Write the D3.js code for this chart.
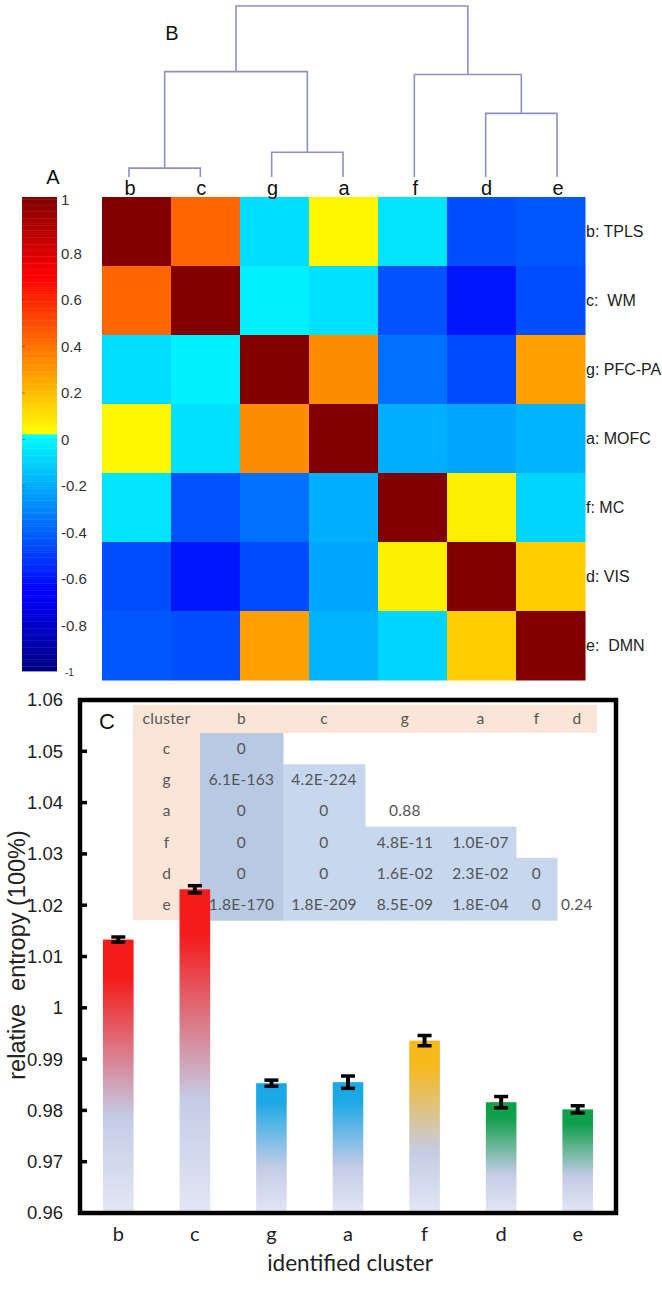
<!DOCTYPE html>
<html>
<head>
<meta charset="utf-8">
<script src="https://cdn.jsdelivr.net/npm/d3@7"></script>
<style>
  body { margin: 0; background: #fff; }
  svg { display: block; }
</style>
</head>
<body>
<svg id="chart" width="662" height="1292"></svg>
<script>
// ---- data ----
const clusters = ['b', 'c', 'g', 'a', 'f', 'd', 'e']
const networkLabels = ['b: TPLS', 'c:  WM', 'g: PFC-PA', 'a: MOFC', 'f: MC', 'd: VIS', 'e:  DMN']

// correlation matrix, rows/cols in cluster order
const corr = [
  [1.00, 0.40, -0.09, 0.02, -0.07, -0.46, -0.44],
  [0.40, 1.00, -0.04, -0.08, -0.45, -0.61, -0.46],
  [-0.09, -0.04, 1.00, 0.30, -0.37, -0.47, 0.25],
  [0.02, -0.08, 0.30, 1.00, -0.21, -0.23, -0.20],
  [-0.07, -0.45, -0.37, -0.21, 1.00, 0.04, -0.11],
  [-0.46, -0.61, -0.47, -0.23, 0.04, 1.00, 0.13],
  [-0.44, -0.46, 0.25, -0.20, -0.11, 0.13, 1.00]
]
const colorbarTicks = [1, 0.8, 0.6, 0.4, 0.2, 0, -0.2, -0.4, -0.6, -0.8, -1]

// dendrogram, h = linkage height (root = 1)
const dendroTree = {
  h: 1.0,
  children: [
    { h: 0.616, children: [
      { h: 0.052, children: [{ name: 'b' }, { name: 'c' }] },
      { h: 0.145, children: [{ name: 'g' }, { name: 'a' }] }
    ] },
    { h: 0.599, children: [
      { name: 'f' },
      { h: 0.372, children: [{ name: 'd' }, { name: 'e' }] }
    ] }
  ]
}

const entropy = [1.0133, 1.0231, 0.9853, 0.9855, 0.9936, 0.9816, 0.9802]
const entropyErr = [0.0005, 0.0007, 0.0006, 0.0012, 0.0010, 0.0011, 0.0007]
const yTicks = [0.96, 0.97, 0.98, 0.99, 1.00, 1.01, 1.02, 1.03, 1.04, 1.05, 1.06]

const tableHeader = ['cluster', 'b', 'c', 'g', 'a', 'f', 'd']
const tableRowLabels = ['c', 'g', 'a', 'f', 'd', 'e']
const pValues = [
  ['0'],
  ['6.1E-163', '4.2E-224'],
  ['0', '0', '0.88'],
  ['0', '0', '4.8E-11', '1.0E-07'],
  ['0', '0', '1.6E-02', '2.3E-02', '0'],
  ['1.8E-170', '1.8E-209', '8.5E-09', '1.8E-04', '0', '0.24']
]

// ---- layout ----
const tableColWidths = [67, 83, 82, 80, 71, 41, 40]
const svg = d3.select('#chart')
const defs = svg.append('defs')

function clamp01(v) {
  return Math.max(0, Math.min(1, v))
}

function jet(t) {
  const r = clamp01(1.5 - Math.abs(4 * t - 3))
  const g = clamp01(1.5 - Math.abs(4 * t - 2))
  const b = clamp01(1.5 - Math.abs(4 * t - 1))
  return d3.rgb(r * 255, g * 255, b * 255).formatHex()
}

function corrColor(v) {
  const t = v < 0 ? 0.375 * (v + 1) : 0.625 + 0.375 * v
  return jet(t)
}

// ---- heatmap ----
const hx = d3.scaleBand().domain(clusters).range([102, 585])
const hy = d3.scaleBand().domain(clusters).range([197, 680])

const cells = []
corr.forEach((row, i) => row.forEach((v, j) => cells.push({ row: clusters[i], col: clusters[j], v })))

svg.append('g')
  .selectAll('rect')
  .data(cells)
  .join('rect')
  .attr('x', d => hx(d.col))
  .attr('y', d => hy(d.row))
  .attr('width', hx.bandwidth() + 0.5)
  .attr('height', hy.bandwidth() + 0.5)
  .attr('fill', d => corrColor(d.v))

svg.append('g')
  .selectAll('text')
  .data(networkLabels)
  .join('text')
  .attr('x', 586)
  .attr('y', (d, i) => hy(clusters[i]) + hy.bandwidth() / 2)
  .attr('dy', '0.35em')
  .attr('font-family', 'Liberation Sans, Arial, sans-serif')
  .attr('font-size', 16)
  .attr('fill', '#222')
  .style('white-space', 'pre')
  .text(d => d)

// ---- dendrogram ----
const leafX = d3.scalePoint().domain(clusters).range([129, 557])
const linkY = d3.scaleLinear().domain([0, 1]).range([177, 6])

const root = d3.hierarchy(dendroTree)
root.eachAfter(n => {
  if (!n.children) {
    n.px = leafX(n.data.name)
    n.py = linkY(0)
  } else {
    n.px = d3.mean(n.children, c => c.px)
    n.py = linkY(n.data.h)
  }
})

svg.append('g')
  .selectAll('path')
  .data(root.descendants().filter(n => n.children))
  .join('path')
  .attr('d', n => {
    const [c1, c2] = n.children
    return `M${c1.px},${c1.py}V${n.py}H${c2.px}V${c2.py}`
  })
  .attr('fill', 'none')
  .attr('stroke', '#8f8fc6')
  .attr('stroke-width', 1.6)

svg.append('g')
  .selectAll('text')
  .data(clusters)
  .join('text')
  .attr('x', d => leafX(d) + 1)
  .attr('y', 195)
  .attr('text-anchor', 'middle')
  .attr('font-family', 'Liberation Sans, Arial, sans-serif')
  .attr('font-size', 20)
  .attr('fill', '#111')
  .text(d => d)

svg.append('text')
  .attr('x', 172).attr('y', 40)
  .attr('text-anchor', 'middle')
  .attr('font-family', 'Liberation Sans, Arial, sans-serif')
  .attr('font-size', 20)
  .attr('fill', '#111')
  .text('B')

svg.append('text')
  .attr('x', 53).attr('y', 184)
  .attr('text-anchor', 'middle')
  .attr('font-family', 'Liberation Sans, Arial, sans-serif')
  .attr('font-size', 20)
  .attr('fill', '#111')
  .text('A')

// ---- colorbar ----
const cbY = d3.scaleLinear().domain([-1, 1]).range([671, 197])
const cbLabelY = d3.scaleLinear().domain([-1, 1]).range([672, 207])
const cbStep = 0.01
const cbValues = d3.range(-1, 1, cbStep)

svg.append('g')
  .selectAll('rect')
  .data(cbValues)
  .join('rect')
  .attr('x', 22)
  .attr('y', d => cbY(d + cbStep))
  .attr('width', 35)
  .attr('height', d => cbY(d) - cbY(d + cbStep) + 0.4)
  .attr('fill', d => corrColor(d + cbStep / 2))

svg.append('g')
  .selectAll('line')
  .data(colorbarTicks.filter(d => Math.abs(d) < 1))
  .join('line')
  .attr('x1', 22).attr('x2', 25)
  .attr('y1', d => cbLabelY(d)).attr('y2', d => cbLabelY(d))
  .attr('stroke', '#333')
  .attr('stroke-opacity', 0.5)

svg.append('g')
  .selectAll('text')
  .data(colorbarTicks)
  .join('text')
  .attr('x', d => d === -1 ? 65 : 61)
  .attr('y', d => d === 1 ? 200 : cbLabelY(d))
  .attr('dy', '0.35em')
  .attr('font-family', 'Liberation Sans, Arial, sans-serif')
  .attr('font-size', d => d === -1 ? 10 : 15)
  .attr('fill', '#333')
  .text(d => d)

// ---- table of p-values (under the bars) ----
const colEdges = [133]
tableColWidths.forEach(w => colEdges.push(colEdges[colEdges.length - 1] + w))
const tableTop = 705
const headerH = 28
const rowH = 31.2
const tableBottom = tableTop + headerH + rowH * tableRowLabels.length

const tableG = svg.append('g')
tableG.append('rect')
  .attr('x', colEdges[0]).attr('y', tableTop)
  .attr('width', colEdges[colEdges.length - 1] - colEdges[0]).attr('height', headerH)
  .attr('fill', '#fbe5d6')
tableG.append('rect')
  .attr('x', colEdges[0]).attr('y', tableTop)
  .attr('width', tableColWidths[0]).attr('height', tableBottom - tableTop)
  .attr('fill', '#fbe5d6')

const tCells = []
pValues.forEach((row, i) => row.forEach((p, j) => tCells.push({ i, j: j + 1, p })))

tableG.selectAll('rect.cell')
  .data(tCells.filter(d => +d.p < 0.05))
  .join('rect')
  .attr('class', 'cell')
  .attr('x', d => colEdges[d.j])
  .attr('y', d => tableTop + headerH + d.i * rowH)
  .attr('width', d => tableColWidths[d.j] + 0.5)
  .attr('height', rowH + 0.5)
  .attr('fill', d => d.j === 1 ? '#b8cae3' : '#c6d7ee')

const tableFont = 'Lato, Open Sans, sans-serif'
const tableSize = 15.5
tableG.selectAll('text.head')
  .data(tableHeader)
  .join('text')
  .attr('class', 'head')
  .attr('x', (d, j) => colEdges[j] + tableColWidths[j] / 2)
  .attr('y', tableTop + headerH / 2)
  .attr('dy', '0.35em')
  .attr('text-anchor', 'middle')
  .attr('font-family', tableFont)
  .attr('font-size', tableSize)
  .attr('letter-spacing', 0.3)
  .attr('fill', '#555')
  .text(d => d)

tableG.selectAll('text.rowlab')
  .data(tableRowLabels)
  .join('text')
  .attr('class', 'rowlab')
  .attr('x', colEdges[0] + tableColWidths[0] / 2)
  .attr('y', (d, i) => tableTop + headerH + i * rowH + rowH / 2)
  .attr('dy', '0.35em')
  .attr('text-anchor', 'middle')
  .attr('font-family', tableFont)
  .attr('font-size', tableSize)
  .attr('fill', '#555')
  .text(d => d)

tableG.selectAll('text.val')
  .data(tCells)
  .join('text')
  .attr('class', 'val')
  .attr('x', d => colEdges[d.j] + tableColWidths[d.j] / 2)
  .attr('y', d => tableTop + headerH + d.i * rowH + rowH / 2)
  .attr('dy', '0.35em')
  .attr('text-anchor', 'middle')
  .attr('font-family', tableFont)
  .attr('font-size', tableSize)
  .attr('letter-spacing', 0.3)
  .attr('fill', '#555')
  .text(d => d.p)

svg.append('text')
  .attr('x', 107).attr('y', 721)
  .attr('dy', '0.35em')
  .attr('text-anchor', 'middle')
  .attr('font-family', 'Liberation Sans, Arial, sans-serif')
  .attr('font-size', 22)
  .attr('fill', '#111')
  .text('C')

// ---- bar chart ----
const bx = d3.scaleBand().domain(clusters).range([80, 616]).paddingInner(0.6).paddingOuter(0.3)
const by = d3.scaleLinear().domain([0.96, 1.06]).range([1213, 700])
const barColor = d3.scaleOrdinal()
  .domain(clusters)
  .range(['#f41b1b', '#f41b1b', '#1ba8e6', '#1ba8e6', '#f7b81b', '#10a04b', '#10a04b'])

clusters.forEach(c => {
  const grad = defs.append('linearGradient')
    .attr('id', 'grad-' + c)
    .attr('x1', 0).attr('y1', 0).attr('x2', 0).attr('y2', 1)
  grad.append('stop').attr('offset', '0%').attr('stop-color', barColor(c))
  grad.append('stop').attr('offset', '14%').attr('stop-color', barColor(c))
  grad.append('stop').attr('offset', '65%').attr('stop-color', '#c4cce6')
  grad.append('stop').attr('offset', '100%').attr('stop-color', '#e2e7f4')
})

const barData = clusters.map((c, i) => ({ c, v: entropy[i], e: entropyErr[i] }))

svg.append('g')
  .selectAll('rect')
  .data(barData)
  .join('rect')
  .attr('x', d => bx(d.c))
  .attr('y', d => by(d.v))
  .attr('width', bx.bandwidth())
  .attr('height', d => by(0.96) - by(d.v))
  .attr('fill', d => `url(#grad-${d.c})`)

const errG = svg.append('g').attr('stroke', '#000')
errG.selectAll('line.stem')
  .data(barData)
  .join('line')
  .attr('class', 'stem')
  .attr('x1', d => bx(d.c) + bx.bandwidth() / 2)
  .attr('x2', d => bx(d.c) + bx.bandwidth() / 2)
  .attr('y1', d => by(d.v - d.e))
  .attr('y2', d => by(d.v + d.e))
  .attr('stroke-width', 4)

errG.selectAll('line.cap')
  .data(barData.flatMap(d => [{ c: d.c, y: d.v - d.e }, { c: d.c, y: d.v + d.e }]))
  .join('line')
  .attr('class', 'cap')
  .attr('x1', d => bx(d.c) + bx.bandwidth() / 2 - 7)
  .attr('x2', d => bx(d.c) + bx.bandwidth() / 2 + 7)
  .attr('y1', d => by(d.y))
  .attr('y2', d => by(d.y))
  .attr('stroke-width', 3.5)

// frame + ticks
svg.append('rect')
  .attr('x', 80).attr('y', 700)
  .attr('width', 536).attr('height', 513)
  .attr('fill', 'none')
  .attr('stroke', '#000')
  .attr('stroke-width', 4.5)

svg.append('g')
  .selectAll('line')
  .data(yTicks)
  .join('line')
  .attr('x1', 80).attr('x2', 87)
  .attr('y1', d => by(d)).attr('y2', d => by(d))
  .attr('stroke', '#000')
  .attr('stroke-width', 3.5)

svg.append('g')
  .selectAll('text')
  .data(yTicks)
  .join('text')
  .attr('x', 63)
  .attr('y', d => by(d))
  .attr('dy', '0.35em')
  .attr('text-anchor', 'end')
  .attr('font-family', 'Liberation Sans, Arial, sans-serif')
  .attr('font-size', 18.5)
  .attr('fill', '#222')
  .text(d => String(+d.toFixed(2)))

svg.append('g')
  .selectAll('text')
  .data(clusters)
  .join('text')
  .attr('x', d => bx(d) + bx.bandwidth() / 2)
  .attr('y', 1241)
  .attr('text-anchor', 'middle')
  .attr('font-family', 'Lato, Open Sans, sans-serif')
  .attr('font-size', 20)
  .attr('fill', '#222')
  .text(d => d)

svg.append('text')
  .attr('x', 350).attr('y', 1271)
  .attr('text-anchor', 'middle')
  .attr('font-family', 'Lato, Open Sans, sans-serif')
  .attr('font-size', 22.5)
  .attr('fill', '#222')
  .text('identified cluster')

svg.append('text')
  .attr('transform', 'translate(25,955) rotate(-90)')
  .attr('text-anchor', 'middle')
  .attr('font-family', 'Liberation Sans, Arial, sans-serif')
  .attr('font-size', 23.5)
  .attr('fill', '#222')
  .style('white-space', 'pre')
  .text('relative  entropy (100%)')
</script>
</body>
</html>
